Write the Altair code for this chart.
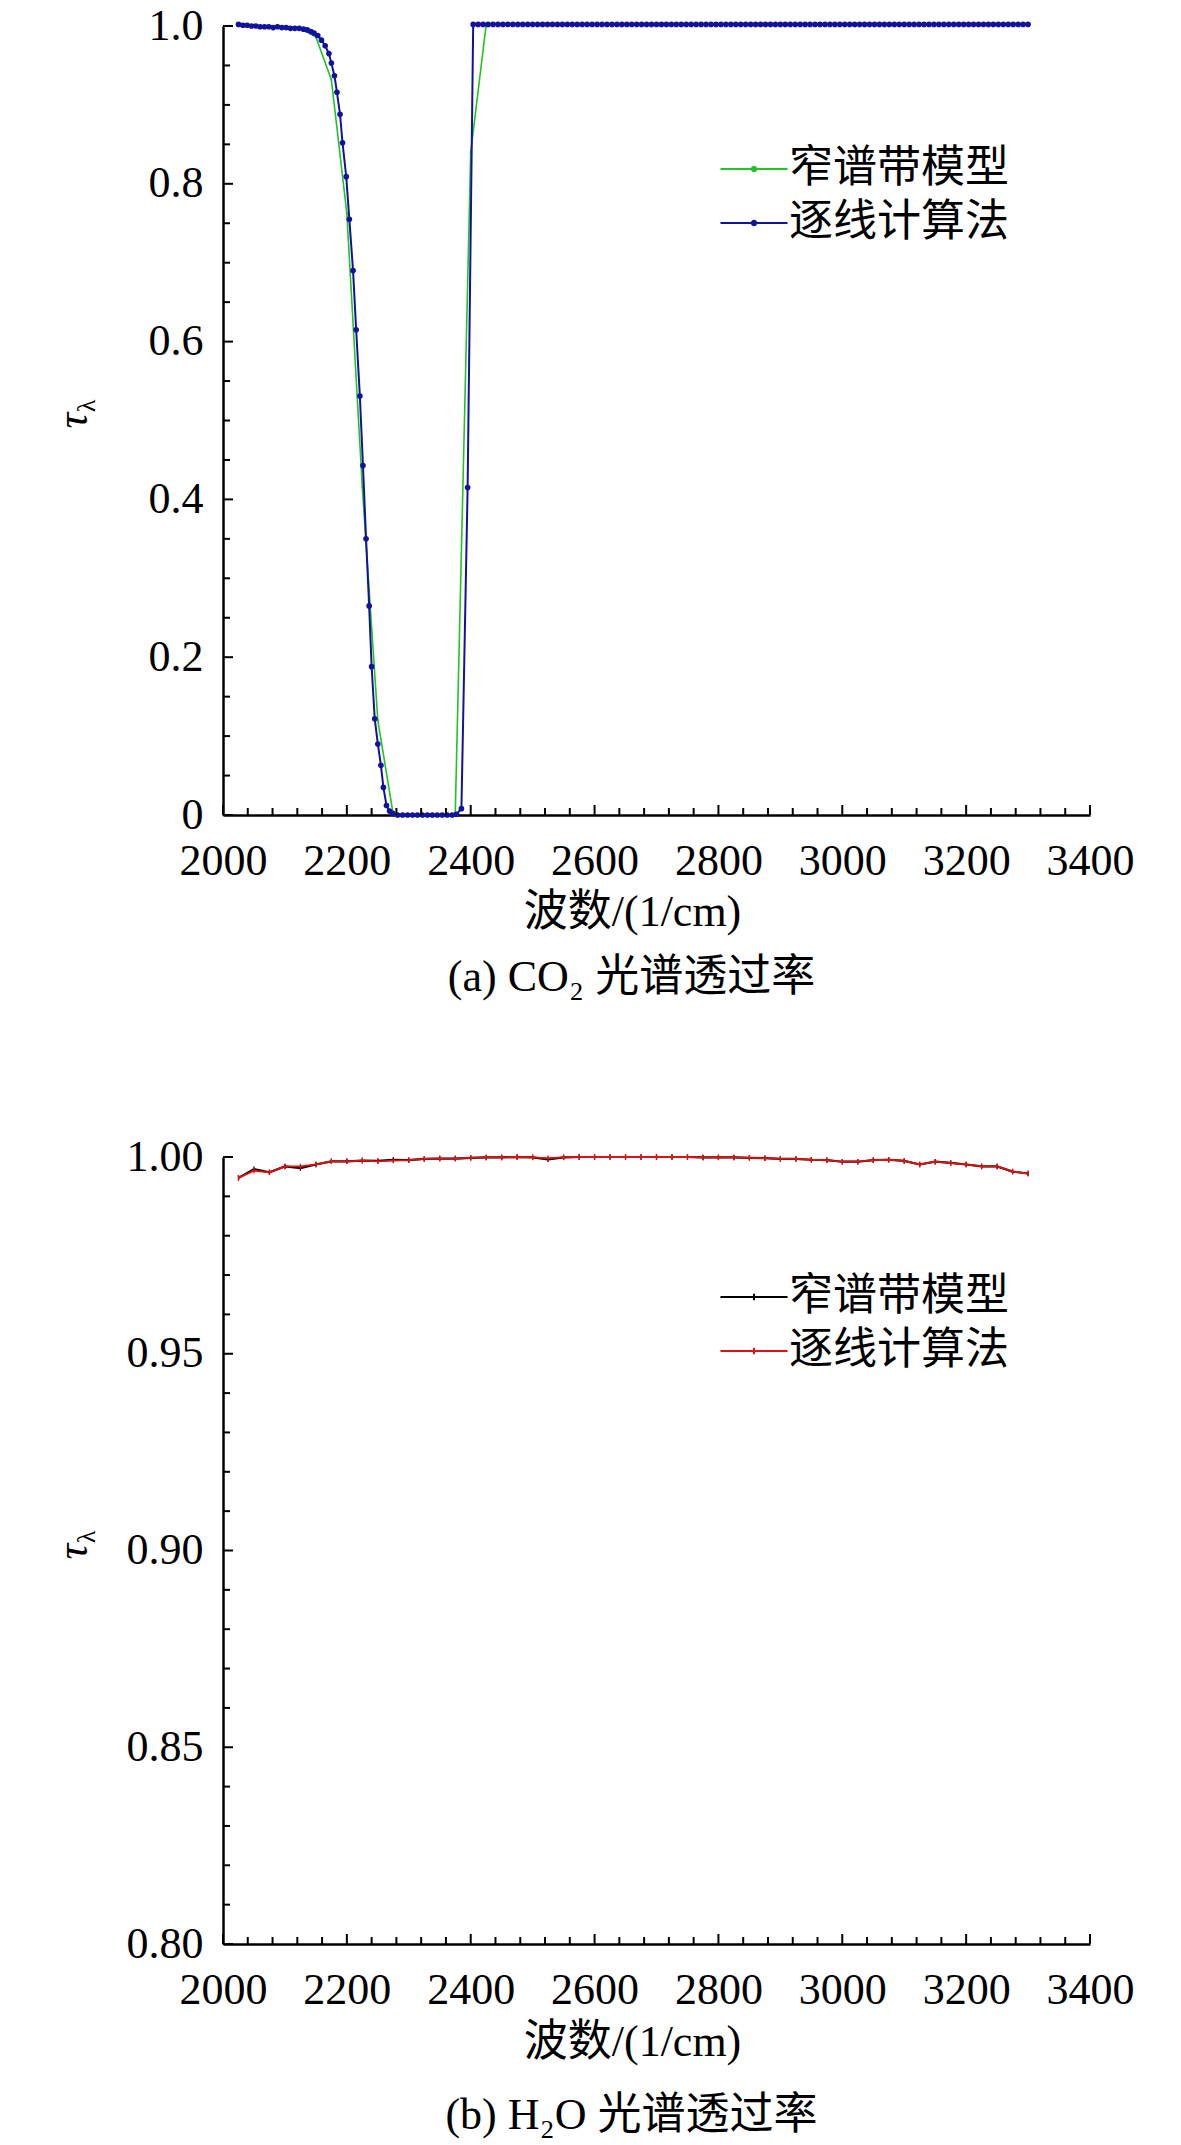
import altair as alt
import pandas as pd

# ---------------- data ----------------
series_names = ["窄谱带模型", "逐线计算法"]

# (a) CO2 - narrow band model (green), every 25 cm-1
co2_nb_x = [2025, 2050, 2075, 2100, 2125, 2150, 2175, 2200, 2225, 2250,
            2275, 2300, 2325, 2350, 2375, 2400, 2425, 2450, 2475, 2500,
            2525, 2550, 2575, 2600, 2625, 2650, 2675, 2700, 2725, 2750,
            2775, 2800, 2825, 2850, 2875, 2900, 2925, 2950, 2975, 3000,
            3025, 3050, 3075, 3100, 3125, 3150, 3175, 3200, 3225, 3250,
            3275, 3300]
co2_nb_y = [1.001, 1.001, 1.000, 0.999, 0.997, 0.986, 0.932, 0.762, 0.415, 0.120,
            0.000, 0.000, 0.000, 0.000, 0.000, 0.840, 1.002, 1.002, 1.002, 1.002,
            1.002, 1.002, 1.002, 1.002, 1.002, 1.002, 1.002, 1.002, 1.002, 1.002,
            1.002, 1.002, 1.002, 1.002, 1.002, 1.002, 1.002, 1.002, 1.002, 1.002,
            1.002, 1.002, 1.002, 1.002, 1.002, 1.002, 1.002, 1.002, 1.002, 1.002,
            1.002, 1.002]

# (a) CO2 - line-by-line (blue): band region
co2_lbl_x_band = [2025, 2032, 2039, 2046, 2053, 2060, 2067, 2074, 2081, 2088,
                  2095, 2102, 2109, 2116, 2123, 2130, 2136, 2142, 2147, 2153,
                  2159, 2165, 2171, 2175, 2180, 2184, 2189, 2193, 2199, 2204,
                  2210, 2215, 2221, 2226, 2231, 2236, 2240, 2245, 2250, 2255,
                  2259, 2264, 2269, 2274, 2282, 2290, 2298, 2306, 2314, 2322,
                  2330, 2338, 2346, 2354, 2362, 2370, 2377, 2385, 2395]
co2_lbl_y_band = [1.002, 1.001, 1.001, 1.000, 1.000, 0.999, 0.999, 0.999, 0.998, 0.999,
                  0.998, 0.998, 0.997, 0.997, 0.997, 0.996, 0.995, 0.993, 0.991, 0.988,
                  0.982, 0.975, 0.965, 0.953, 0.937, 0.916, 0.888, 0.852, 0.809, 0.755,
                  0.690, 0.615, 0.531, 0.443, 0.350, 0.265, 0.188, 0.122, 0.090, 0.063,
                  0.035, 0.012, 0.005, 0.002, 0.000, 0.000, 0.000, 0.000, 0.000, 0.000,
                  0.000, 0.000, 0.000, 0.000, 0.000, 0.000, 0.001, 0.008, 0.415]
# (a) CO2 - line-by-line (blue): transparent region
co2_lbl_x_flat = [2404, 2412, 2420, 2428, 2436, 2444, 2452, 2460, 2468, 2476,
                  2484, 2492, 2500, 2508, 2516, 2524, 2532, 2540, 2548, 2556,
                  2564, 2572, 2580, 2588, 2596, 2604, 2612, 2620, 2628, 2636,
                  2644, 2652, 2660, 2668, 2676, 2684, 2692, 2700, 2708, 2716,
                  2724, 2732, 2740, 2748, 2756, 2764, 2772, 2780, 2788, 2796,
                  2804, 2812, 2820, 2828, 2836, 2844, 2852, 2860, 2868, 2876,
                  2884, 2892, 2900, 2908, 2916, 2924, 2932, 2940, 2948, 2956,
                  2964, 2972, 2980, 2988, 2996, 3004, 3012, 3020, 3028, 3036,
                  3044, 3052, 3060, 3068, 3076, 3084, 3092, 3100, 3108, 3116,
                  3124, 3132, 3140, 3148, 3156, 3164, 3172, 3180, 3188, 3196,
                  3204, 3212, 3220, 3228, 3236, 3244, 3252, 3260, 3268, 3276,
                  3284, 3292, 3300]
co2_lbl_y_flat = [1.002, 1.002, 1.002, 1.002, 1.002, 1.002, 1.002, 1.002, 1.002, 1.002,
                  1.002, 1.002, 1.002, 1.002, 1.002, 1.002, 1.002, 1.002, 1.002, 1.002,
                  1.002, 1.002, 1.002, 1.002, 1.002, 1.002, 1.002, 1.002, 1.002, 1.002,
                  1.002, 1.002, 1.002, 1.002, 1.002, 1.002, 1.002, 1.002, 1.002, 1.002,
                  1.002, 1.002, 1.002, 1.002, 1.002, 1.002, 1.002, 1.002, 1.002, 1.002,
                  1.002, 1.002, 1.002, 1.002, 1.002, 1.002, 1.002, 1.002, 1.002, 1.002,
                  1.002, 1.002, 1.002, 1.002, 1.002, 1.002, 1.002, 1.002, 1.002, 1.002,
                  1.002, 1.002, 1.002, 1.002, 1.002, 1.002, 1.002, 1.002, 1.002, 1.002,
                  1.002, 1.002, 1.002, 1.002, 1.002, 1.002, 1.002, 1.002, 1.002, 1.002,
                  1.002, 1.002, 1.002, 1.002, 1.002, 1.002, 1.002, 1.002, 1.002, 1.002,
                  1.002, 1.002, 1.002, 1.002, 1.002, 1.002, 1.002, 1.002, 1.002, 1.002,
                  1.002, 1.002, 1.002]

# (b) H2O, every 25 cm-1
h2o_x = [2025, 2050, 2075, 2100, 2125, 2150, 2175, 2200, 2225, 2250,
         2275, 2300, 2325, 2350, 2375, 2400, 2425, 2450, 2475, 2500,
         2525, 2550, 2575, 2600, 2625, 2650, 2675, 2700, 2725, 2750,
         2775, 2800, 2825, 2850, 2875, 2900, 2925, 2950, 2975, 3000,
         3025, 3050, 3075, 3100, 3125, 3150, 3175, 3200, 3225, 3250,
         3275, 3300]
h2o_nb_y = [0.9947, 0.9969, 0.9961, 0.9976, 0.9972, 0.9981, 0.9989, 0.9989, 0.9991, 0.9990,
            0.9993, 0.9992, 0.9995, 0.9996, 0.9996, 0.9998, 0.9999, 0.9999, 1.0000, 0.9999,
            0.9994, 0.9999, 1.0000, 1.0000, 1.0000, 1.0000, 1.0000, 1.0000, 1.0000, 1.0000,
            0.9999, 0.9999, 0.9999, 0.9998, 0.9997, 0.9995, 0.9995, 0.9993, 0.9992, 0.9988,
            0.9988, 0.9992, 0.9993, 0.9990, 0.9981, 0.9988, 0.9985, 0.9981, 0.9976, 0.9976,
            0.9963, 0.9958]
h2o_lbl_y = [0.9947, 0.9965, 0.9961, 0.9976, 0.9976, 0.9981, 0.9989, 0.9989, 0.9991, 0.9989,
             0.9991, 0.9992, 0.9995, 0.9996, 0.9996, 0.9998, 0.9999, 0.9999, 1.0000, 0.9999,
             0.9997, 0.9999, 1.0000, 1.0000, 1.0000, 1.0000, 1.0000, 1.0000, 1.0000, 1.0000,
             0.9999, 0.9999, 0.9999, 0.9998, 0.9997, 0.9995, 0.9995, 0.9993, 0.9992, 0.9988,
             0.9988, 0.9992, 0.9993, 0.9990, 0.9981, 0.9988, 0.9985, 0.9981, 0.9976, 0.9976,
             0.9963, 0.9958]

# axis tick values
x_major_ticks = [2000, 2200, 2400, 2600, 2800, 3000, 3200, 3400]
x_minor_ticks = [2040, 2080, 2120, 2160, 2240, 2280, 2320, 2360, 2440, 2480, 2520, 2560,
                 2640, 2680, 2720, 2760, 2840, 2880, 2920, 2960, 3040, 3080, 3120, 3160,
                 3240, 3280, 3320, 3360]
co2_y_major = [0.0, 0.2, 0.4, 0.6, 0.8, 1.0]
co2_y_minor = [0.05, 0.1, 0.15, 0.25, 0.3, 0.35, 0.45, 0.5, 0.55, 0.65, 0.7, 0.75, 0.85, 0.9, 0.95]
h2o_y_major = [0.80, 0.85, 0.90, 0.95, 1.00]
h2o_y_minor = [0.81, 0.82, 0.83, 0.84, 0.86, 0.87, 0.88, 0.89, 0.91, 0.92, 0.93, 0.94,
               0.96, 0.97, 0.98, 0.99]

# ---------------- styling ----------------
SERIF = "Liberation Serif"
CJK = "Noto Sans CJK SC"
MIXED = "Liberation Serif, Noto Sans CJK SC"
W = 867
GREEN = "#22c422"
BLUE = "#12129c"
BLACK = "#000000"
RED = "#e01212"


def panel(H, ydom, y_major, y_minor, label_expr, layers_spec, colors, legend_symbol,
          legend_y, caption, xtitle_y, cap_offset):
    xscale = alt.Scale(domain=[2000, 3400], nice=False, zero=False)
    yscale = alt.Scale(domain=ydom, nice=False, zero=False)
    xaxis = alt.Axis(values=x_major_ticks, format="d", grid=False, ticks=False, tickSize=0,
                     labelFont=SERIF, labelFontSize=44, labelColor="black", labelPadding=24,
                     labelOverlap=False, labelFlush=False,
                     domainColor="black", domainWidth=2.5,
                     title="波数/(1/cm)", titleFont=MIXED, titleFontSize=44,
                     titleFontWeight="normal", titleColor="black", titleX=409, titleY=xtitle_y,
                     titleAlign="center", titleBaseline="middle")
    yaxis = alt.Axis(values=y_major, labelExpr=label_expr, grid=False, ticks=False, tickSize=0,
                     labelFont=SERIF, labelFontSize=44, labelColor="black", labelPadding=20,
                     labelOverlap=False, labelFlush=False,
                     domainColor="black", domainWidth=2.5,
                     title="τ", titleFont=SERIF, titleFontStyle="italic", titleFontSize=44,
                     titleFontWeight="normal", titleColor="black", titleAngle=270,
                     titleX=-150, titleY=394, titleAlign="center", titleBaseline="middle")
    X = alt.X("x:Q", scale=xscale, axis=xaxis)
    Y = alt.Y("y:Q", scale=yscale, axis=yaxis)
    color = alt.Color("series:N",
                      scale=alt.Scale(domain=series_names, range=colors),
                      legend=alt.Legend(orient="none", legendX=509, legendY=legend_y,
                                        direction="vertical", title=None,
                                        labelFont=CJK, labelFontSize=44, labelColor="black",
                                        labelLimit=600,
                                        symbolType=legend_symbol, symbolSize=500,
                                        symbolStrokeWidth=2, labelOffset=13, rowPadding=10,
                                        padding=0))
    layers = []
    for df, line_kw, pt_kind, pt_kw in layers_spec:
        layers.append(alt.Chart(df).mark_line(**line_kw).encode(x=X, y=Y, color=color))
        if pt_kind == "circle":
            layers.append(alt.Chart(df).mark_circle(**pt_kw).encode(x=X, y=Y, color=color))
        else:
            layers.append(alt.Chart(df).mark_point(**pt_kw).encode(x=X, y=Y, color=color))
    # inward ticks
    layers.append(alt.Chart(pd.DataFrame({"x": x_major_ticks})).mark_rule(
        color="black", strokeWidth=2).encode(x=X, y=alt.value(H), y2=alt.value(H - 10)))
    layers.append(alt.Chart(pd.DataFrame({"x": x_minor_ticks})).mark_rule(
        color="black", strokeWidth=2).encode(x=X, y=alt.value(H), y2=alt.value(H - 7)))
    layers.append(alt.Chart(pd.DataFrame({"y": y_major})).mark_rule(
        color="black", strokeWidth=2).encode(y=Y, x=alt.value(0), x2=alt.value(10)))
    layers.append(alt.Chart(pd.DataFrame({"y": y_minor})).mark_rule(
        color="black", strokeWidth=2).encode(y=Y, x=alt.value(0), x2=alt.value(7)))
    # subscript lambda of the y title
    layers.append(alt.Chart(pd.DataFrame({"t": ["λ"]})).mark_text(
        angle=270, font=SERIF, fontSize=26, color="black").encode(
        text="t:N", x=alt.value(-136), y=alt.value(380)))
    return alt.layer(*layers).properties(
        width=W, height=H,
        title=alt.TitleParams(text=caption, orient="bottom", anchor="middle", frame="group",
                              font=MIXED, fontSize=44, fontWeight="normal", color="black",
                              offset=cap_offset, dx=-25, baseline="top"))


df_co2_nb = pd.DataFrame({"x": co2_nb_x, "y": co2_nb_y, "series": series_names[0]})
df_co2_lbl = pd.DataFrame({"x": co2_lbl_x_band + co2_lbl_x_flat,
                           "y": co2_lbl_y_band + co2_lbl_y_flat,
                           "series": series_names[1]})
df_h2o_nb = pd.DataFrame({"x": h2o_x, "y": h2o_nb_y, "series": series_names[0]})
df_h2o_lbl = pd.DataFrame({"x": h2o_x, "y": h2o_lbl_y, "series": series_names[1]})

top = panel(
    789, [0, 1.0], co2_y_major, co2_y_minor,
    "datum.value == 0 ? '0' : format(datum.value, '.1f')",
    [(df_co2_nb, dict(strokeWidth=1.6), "circle", dict(size=5, opacity=1)),
     (df_co2_lbl, dict(strokeWidth=2), "circle", dict(size=32, opacity=1))],
    [GREEN, BLUE],
    "M-3,0H3M-0.2,0A0.2,0.2,0,1,1,0.2,0A0.2,0.2,0,1,1,-0.2,0",
    121, "(a) CO₂ 光谱透过率", 97, 22)

bottom = panel(
    787, [0.8, 1.0], h2o_y_major, h2o_y_minor,
    "format(datum.value, '.2f')",
    [(df_h2o_nb, dict(strokeWidth=2.2), "point",
      dict(shape="M0,-1V1", filled=False, size=30, strokeWidth=1.3, opacity=1)),
     (df_h2o_lbl, dict(strokeWidth=1.8), "point",
      dict(shape="M0,-1V1", filled=False, size=30, strokeWidth=1.3, opacity=1))],
    [BLACK, RED],
    "M-3,0H3M0,-0.3V0.3",
    118, "(b) H₂O 光谱透过率", 98, 30)

chart = alt.vconcat(top, bottom, spacing=135).resolve_scale(
    color="independent", x="independent", y="independent"
).properties(
    padding={"left": 43, "top": -4, "right": 10, "bottom": 10}
).configure_view(strokeWidth=0)

chart.save("out.html", embed_options={"renderer": "svg", "actions": False})
